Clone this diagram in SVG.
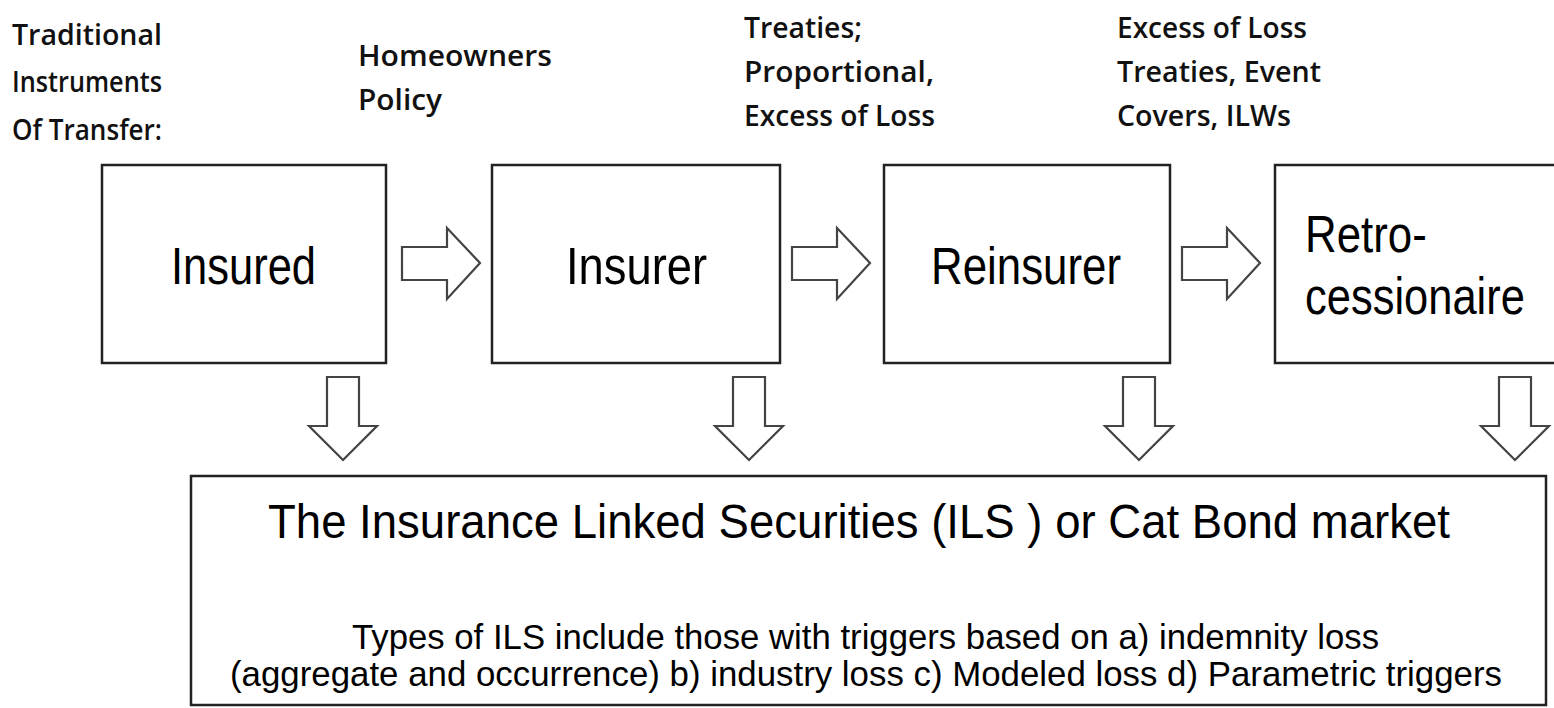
<svg xmlns="http://www.w3.org/2000/svg" width="1554" height="708" viewBox="0 0 1554 708">
<style>
.box{fill:#fff;stroke:#222;stroke-width:2.5}
.arr{fill:#fff;stroke:#444;stroke-width:2.2;stroke-linejoin:miter}
.note{font-family:"Open Sans","Liberation Sans",sans-serif;font-size:29px;fill:#111;font-weight:600}
.lbl{font-family:"Liberation Sans",Arial,sans-serif;font-size:51px;fill:#000}
.title{font-family:"Liberation Sans",Arial,sans-serif;font-size:48px;fill:#000}
.sub{font-family:"Liberation Sans",Arial,sans-serif;font-size:35px;fill:#000}
</style>
<defs>
<path id="rarrow" d="M0,0 H45 V-19 L78,16 L45,52 V33 H0 Z"/>
<path id="darrow" d="M-16,0 H16 V49 H34 L0,83 L-34,49 H-16 Z"/>
</defs>
<rect width="1554" height="708" fill="#fff"/>
<g id="labels">
<text class="note" x="12" y="45" textLength="150" lengthAdjust="spacingAndGlyphs">Traditional</text>
<text class="note" x="12" y="92" textLength="150" lengthAdjust="spacingAndGlyphs">Instruments</text>
<text class="note" x="12" y="140" textLength="150" lengthAdjust="spacingAndGlyphs">Of Transfer:</text>
<text class="note" x="358" y="66" textLength="194" lengthAdjust="spacingAndGlyphs">Homeowners</text>
<text class="note" x="358" y="110" textLength="84" lengthAdjust="spacingAndGlyphs">Policy</text>
<text class="note" x="744" y="38" textLength="118" lengthAdjust="spacingAndGlyphs">Treaties;</text>
<text class="note" x="744" y="82" textLength="190" lengthAdjust="spacingAndGlyphs">Proportional,</text>
<text class="note" x="744" y="126" textLength="191" lengthAdjust="spacingAndGlyphs">Excess of Loss</text>
<text class="note" x="1117" y="38" textLength="190" lengthAdjust="spacingAndGlyphs">Excess of Loss</text>
<text class="note" x="1117" y="82" textLength="204" lengthAdjust="spacingAndGlyphs">Treaties, Event</text>
<text class="note" x="1117" y="126" textLength="174" lengthAdjust="spacingAndGlyphs">Covers, ILWs</text>
</g>
<g id="connectors">
<use href="#rarrow" class="arr" x="402" y="247"/>
<use href="#rarrow" class="arr" x="792" y="247"/>
<use href="#rarrow" class="arr" x="1182" y="247"/>
<use href="#darrow" class="arr" x="343" y="377"/>
<use href="#darrow" class="arr" x="749" y="377"/>
<use href="#darrow" class="arr" x="1139" y="377"/>
<use href="#darrow" class="arr" x="1515" y="377"/>
</g>
<g id="insured">
<rect class="box" x="102" y="165" width="284" height="198"/>
<text class="lbl" x="171" y="284" textLength="145" lengthAdjust="spacingAndGlyphs">Insured</text>
</g>
<g id="insurer">
<rect class="box" x="492" y="165" width="288" height="198"/>
<text class="lbl" x="566" y="284" textLength="141" lengthAdjust="spacingAndGlyphs">Insurer</text>
</g>
<g id="reinsurer">
<rect class="box" x="884" y="165" width="286" height="198"/>
<text class="lbl" x="931" y="284" textLength="190" lengthAdjust="spacingAndGlyphs">Reinsurer</text>
</g>
<g id="retrocessionaire">
<rect class="box" x="1275" y="165" width="283" height="198"/>
<text class="lbl" transform="translate(1305,252) scale(0.86,1)" x="0" y="0">Retro-</text>
<text class="lbl" transform="translate(1305,314) scale(0.853,1)" x="0" y="0">cessionaire</text>
</g>
<g id="ils-market">
<rect class="box" x="191" y="476" width="1355" height="229"/>
<text class="title" x="268" y="538" textLength="1182" lengthAdjust="spacingAndGlyphs">The Insurance Linked Securities (ILS ) or Cat Bond market</text>
<text class="sub" x="352" y="649" textLength="1027" lengthAdjust="spacingAndGlyphs">Types of ILS include those with triggers based on a) indemnity loss</text>
<text class="sub" x="230" y="686" textLength="1272" lengthAdjust="spacingAndGlyphs">(aggregate and occurrence) b) industry loss c) Modeled loss d) Parametric triggers</text>
</g>
</svg>
